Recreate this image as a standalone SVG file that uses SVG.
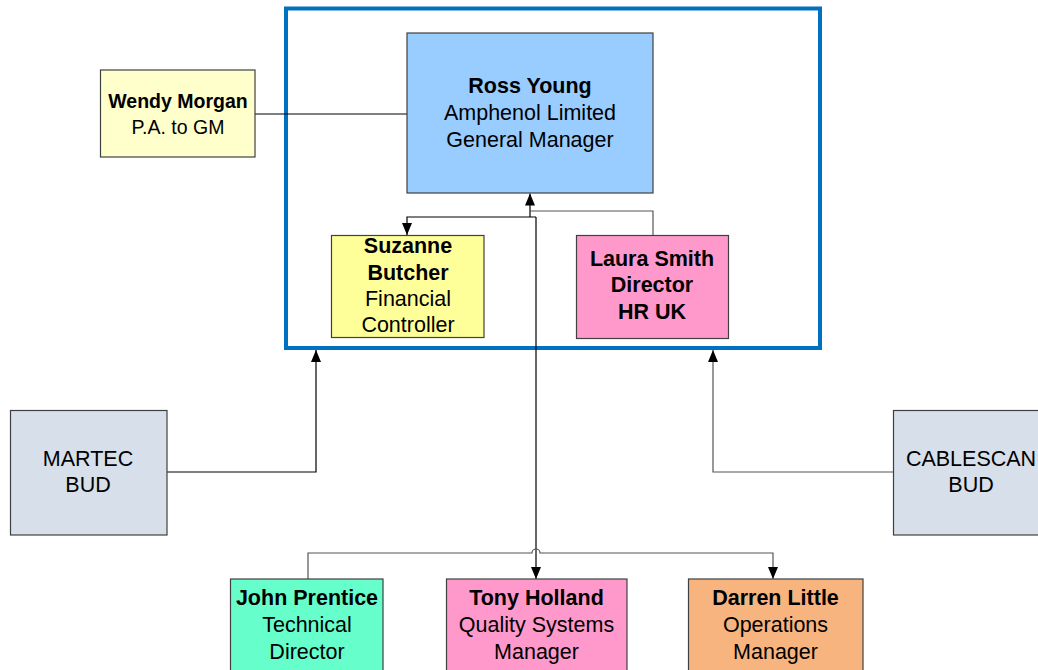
<svg xmlns="http://www.w3.org/2000/svg" width="1038" height="670" viewBox="0 0 1038 670">
<defs>
<marker id="arr" viewBox="0 0 12 10" refX="12" refY="5" markerWidth="12" markerHeight="10" markerUnits="userSpaceOnUse" orient="auto">
<path d="M0,0 L12,5 L0,10 Z" fill="#000"/>
</marker>
<style>
.box{stroke:#404040;stroke-width:1.2}
.t{font-family:"Liberation Sans",Arial,sans-serif;font-size:21.5px;fill:#000;text-anchor:middle}
.b{font-weight:bold}
.w{font-size:19.5px}
.c{fill:none;stroke:#000;stroke-width:1.2}
.cg{fill:none;stroke:#555;stroke-width:1.2}
</style>
</defs>
<rect width="1038" height="670" fill="#fff"/>
<rect id="container" x="286" y="8.5" width="534" height="339.5" fill="none" stroke="#0070C0" stroke-width="4"/>
<g id="connectors">
<path class="c" d="M255,114 H407"/>
<path class="c" d="M536,217 H407 V235" marker-end="url(#arr)"/>
<path class="c" d="M530,217 V193.5" marker-end="url(#arr)"/>
<path class="cg" d="M653,235 V211 H530"/>
<path class="c" d="M536,217 V579" marker-end="url(#arr)"/>
<path class="cg" d="M308,579 V553 H532 A4,4 0 0 1 540,553 H773 V579" marker-end="url(#arr)"/>
<path class="c" d="M167,472 H316 V350" marker-end="url(#arr)"/>
<path class="cg" d="M893,472 H713 V350" marker-end="url(#arr)"/>
</g>
<g id="ross">
<rect class="box" x="407" y="33" width="246" height="160" fill="#99CCFF"/>
<text class="t b" x="530" y="93">Ross Young</text>
<text class="t" x="530" y="120">Amphenol Limited</text>
<text class="t" x="530" y="147">General Manager</text>
</g>
<g id="wendy">
<rect class="box" x="100.5" y="70" width="154.5" height="87" fill="#FFFFCC"/>
<text class="t w b" x="178" y="108">Wendy Morgan</text>
<text class="t w" x="178" y="134">P.A. to GM</text>
</g>
<g id="suzanne">
<rect class="box" x="331.5" y="235.5" width="152.5" height="102" fill="#FFFF99"/>
<text class="t b" x="408" y="253">Suzanne</text>
<text class="t b" x="408" y="280">Butcher</text>
<text class="t" x="408" y="306">Financial</text>
<text class="t" x="408" y="332">Controller</text>
</g>
<g id="laura">
<rect class="box" x="576.5" y="235.5" width="152" height="103" fill="#FF99CC"/>
<text class="t b" x="652" y="266">Laura Smith</text>
<text class="t b" x="652" y="292">Director</text>
<text class="t b" x="652" y="319">HR UK</text>
</g>
<g id="martec">
<rect class="box" x="10.5" y="410.5" width="156.5" height="124.5" fill="#D6DFEA"/>
<text class="t" x="88" y="466">MARTEC</text>
<text class="t" x="88" y="492">BUD</text>
</g>
<g id="cablescan">
<rect class="box" x="893.5" y="410.5" width="160" height="124.5" fill="#D6DFEA"/>
<text class="t" x="971" y="466">CABLESCAN</text>
<text class="t" x="971" y="492">BUD</text>
</g>
<g id="john">
<rect class="box" x="230.5" y="579" width="152.5" height="100" fill="#66FFCC"/>
<text class="t b" x="307" y="605">John Prentice</text>
<text class="t" x="307" y="632">Technical</text>
<text class="t" x="307" y="659">Director</text>
</g>
<g id="tony">
<rect class="box" x="446.5" y="579" width="180.5" height="100" fill="#FF99CC"/>
<text class="t b" x="536.5" y="605">Tony Holland</text>
<text class="t" x="536.5" y="632">Quality Systems</text>
<text class="t" x="536.5" y="659">Manager</text>
</g>
<g id="darren">
<rect class="box" x="688.5" y="579" width="174.5" height="100" fill="#F7B47F"/>
<text class="t b" x="775.5" y="605">Darren Little</text>
<text class="t" x="775.5" y="632">Operations</text>
<text class="t" x="775.5" y="659">Manager</text>
</g>
</svg>
